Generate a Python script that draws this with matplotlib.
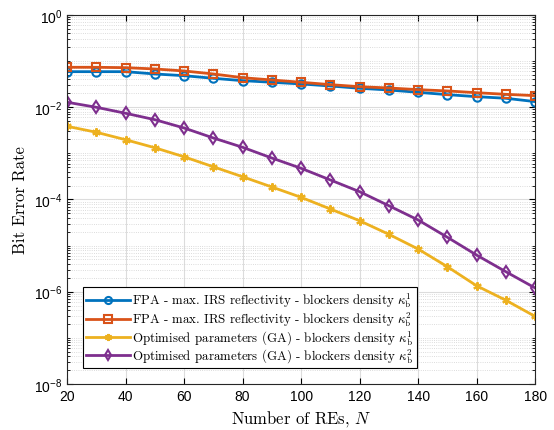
import numpy as np
import matplotlib
matplotlib.use("Agg")
import matplotlib.pyplot as plt
from matplotlib.ticker import LogLocator, NullFormatter, FixedLocator

# Number of REs
n_res = [20, 30, 40, 50, 60, 70, 80, 90, 100, 110, 120, 130, 140, 150, 160, 170, 180]

# BER curves
fpa_k1 = [0.0589, 0.0589, 0.0589, 0.0525, 0.0482, 0.0423, 0.0376, 0.0347, 0.0319,
          0.0288, 0.0257, 0.0236, 0.0210, 0.0187, 0.0169, 0.0156, 0.0132]
fpa_k2 = [0.0733, 0.0733, 0.0719, 0.0674, 0.0610, 0.0525, 0.0436, 0.0389, 0.0347,
          0.0308, 0.0278, 0.0261, 0.0240, 0.0225, 0.0206, 0.0190, 0.0178]
ga_k1 = [3.85e-3, 2.86e-3, 1.97e-3, 1.32e-3, 8.4e-4, 5.1e-4, 3.1e-4, 1.86e-4, 1.11e-4,
         6.2e-5, 3.45e-5, 1.75e-5, 8.4e-6, 3.47e-6, 1.34e-6, 6.5e-7, 2.9e-7]
ga_k2 = [1.28e-2, 9.95e-3, 7.38e-3, 5.36e-3, 3.54e-3, 2.15e-3, 1.35e-3, 7.9e-4, 4.73e-4,
         2.64e-4, 1.47e-4, 7.3e-5, 3.58e-5, 1.51e-5, 6.2e-6, 2.7e-6, 1.2e-6]

labels = [
    r"FPA - max. IRS reflectivity - blockers density $\kappa_{\rm b}^1$",
    r"FPA - max. IRS reflectivity - blockers density $\kappa_{\rm b}^2$",
    r"Optimised parameters (GA) - blockers density $\kappa_{\rm b}^1$",
    r"Optimised parameters (GA) - blockers density $\kappa_{\rm b}^2$",
]

plt.rcParams['mathtext.fontset'] = 'cm'
plt.rcParams['axes.unicode_minus'] = False

fig = plt.figure(figsize=(5.54, 4.31), dpi=100)
ax = fig.add_axes([0.121, 0.107, 0.845, 0.856])

colors = ['#0072BD', '#D95319', '#EDB120', '#7E2F8E']
markers = ['o', 's', (6, 2, 0), 'd']
series = [fpa_k1, fpa_k2, ga_k1, ga_k2]
for vals, c, m, lab in zip(series, colors, markers, labels):
    ax.semilogy(n_res, vals, color=c, marker=m, markersize=6, markerfacecolor='none',
                markeredgewidth=1.5, linewidth=2, label=lab)

ax.set_xlim(20, 180)
ax.set_ylim(1e-8, 1)
ax.set_xticks(range(20, 181, 20))
ax.yaxis.set_major_locator(FixedLocator([1e-8, 1e-6, 1e-4, 1e-2, 1]))
ax.yaxis.set_minor_locator(LogLocator(base=10, subs=np.arange(1, 10), numticks=20))
ax.yaxis.set_minor_formatter(NullFormatter())

ax.grid(True, which='major', color='#dcdcdc', linewidth=0.8)
ax.grid(True, which='minor', axis='y', color='#d0d0d0', linestyle=':', linewidth=0.6)
ax.set_axisbelow(True)

ax.tick_params(which='both', direction='in', top=True, right=True)
ax.tick_params(which='major', length=4, labelsize=10)
ax.tick_params(which='minor', length=2)
for lab in ax.get_xticklabels() + ax.get_yticklabels():
    lab.set_fontfamily('Liberation Sans')
for sp in ax.spines.values():
    sp.set_color('#262626')
    sp.set_linewidth(0.8)

ax.set_xlabel(r"Number of REs, $N$", family='cmr10', fontsize=12)
ax.set_ylabel("Bit Error Rate", family='cmr10', fontsize=12)

leg = ax.legend(loc='lower left', prop={'family': 'cmr10', 'size': 9.3}, fancybox=False,
                edgecolor='black', framealpha=1, borderaxespad=1.2, handlelength=3.4,
                labelspacing=0.0, borderpad=0.25, handletextpad=0.2, markerscale=0.85)
leg.get_frame().set_linewidth(0.8)

fig.savefig('out.png', dpi=100)
